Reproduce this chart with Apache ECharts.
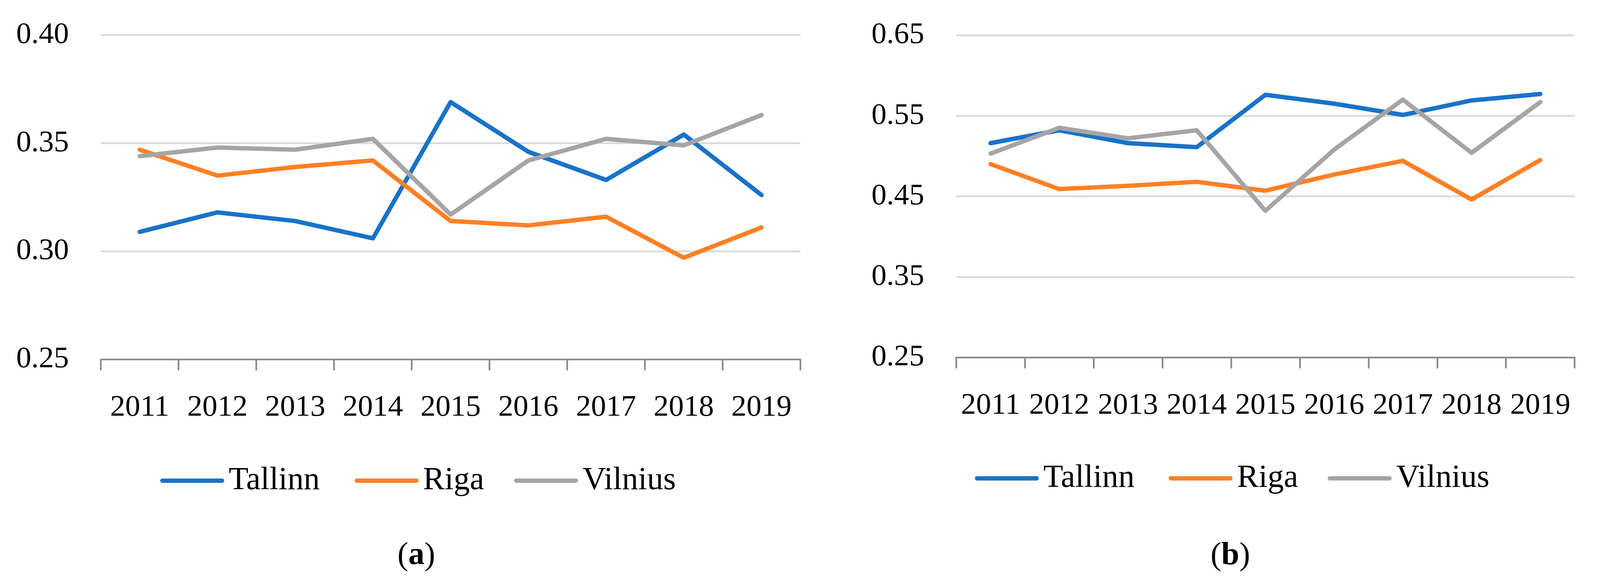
<!DOCTYPE html>
<html>
<head>
<meta charset="utf-8">
<script src="https://cdn.jsdelivr.net/npm/echarts@6/dist/echarts.min.js"></script>
<style>
html,body{margin:0;padding:0;background:#fff;overflow:hidden;}
#chart{width:100vw;height:100vh;}
</style>
</head>
<body>
<div id="chart"></div>
<script>
const years = ['2011','2012','2013','2014','2015','2016','2017','2018','2019'];
const cities = ['Tallinn','Riga','Vilnius'];
const colors = ['#1873C8','#FF8026','#A5A5A5'];

// Panel (a)
const tallinnA = [0.309, 0.318, 0.314, 0.306, 0.369, 0.346, 0.333, 0.354, 0.326];
const rigaA    = [0.347, 0.335, 0.339, 0.342, 0.314, 0.312, 0.316, 0.297, 0.311];
const vilniusA = [0.344, 0.348, 0.347, 0.352, 0.317, 0.342, 0.352, 0.349, 0.363];
const yTicksA = {min: 0.25, max: 0.40, interval: 0.05};

// Panel (b)
const tallinnB = [0.516, 0.532, 0.516, 0.511, 0.576, 0.565, 0.551, 0.569, 0.577];
const rigaB    = [0.490, 0.459, 0.463, 0.468, 0.457, 0.477, 0.494, 0.446, 0.495];
const vilniusB = [0.503, 0.535, 0.522, 0.532, 0.432, 0.508, 0.570, 0.504, 0.567];
const yTicksB = {min: 0.25, max: 0.65, interval: 0.10};

const FONT = 'Liberation Serif';
const AXIS_GRAY = '#898989';
const REF_W = 4354, REF_H = 1482;

const el = document.getElementById('chart');
const chart = echarts.init(el, null, {renderer: 'canvas'});

function build(){
  const W = el.clientWidth || window.innerWidth;
  const H = el.clientHeight || window.innerHeight;
  const sx = W / REF_W, sy = H / REF_H;
  const k = Math.min(sx, sy);
  const X = v => v * sx, Y = v => v * sy, S = v => v * k;

  function xAxis(gridIndex){
    return {
      type: 'category', gridIndex: gridIndex, data: years, boundaryGap: true,
      axisLine: {show: true, lineStyle: {color: AXIS_GRAY, width: S(4.5)}},
      axisTick: {show: true, length: Y(28), lineStyle: {color: AXIS_GRAY, width: S(4.5)}},
      axisLabel: {interval: 0, margin: Y(85), fontFamily: FONT, fontSize: S(82), color: '#000'},
      splitLine: {show: false}
    };
  }
  function yAxis(gridIndex, t){
    return {
      type: 'value', gridIndex: gridIndex, min: t.min, max: t.max, interval: t.interval,
      axisLine: {show: false}, axisTick: {show: false},
      axisLabel: {margin: X(87), fontFamily: FONT, fontSize: S(82), color: '#000',
        formatter: v => v.toFixed(2)},
      splitLine: {show: true, lineStyle: {color: '#D9D9D9', width: S(5)}}
    };
  }
  function line(name, data, color, idx){
    return {
      name: name, type: 'line', xAxisIndex: idx, yAxisIndex: idx, data: data,
      symbol: 'none', showSymbol: false, smooth: false,
      lineStyle: {color: color, width: S(12), cap: 'round', join: 'round'},
      itemStyle: {color: color}, emphasis: {disabled: true}, z: 3
    };
  }
  const capsule = 'path://M6,0 L168,0 A6,6 0 0 1 168,12 L6,12 A6,6 0 0 1 6,0 Z';
  function legend(name, left, top){
    return {
      data: [{name: name, icon: capsule}], left: X(left), top: Y(top), orient: 'horizontal',
      itemWidth: X(174), itemHeight: S(13), selectedMode: false, padding: 0,
      textStyle: {fontFamily: FONT, fontSize: S(88), color: '#000', lineHeight: S(90), padding: [0,0,0,X(7)]}
    };
  }
  function caption(letter, cx, cy){
    return {type: 'text', x: X(cx), y: Y(cy), style: {text: '{p|(}{b|' + letter + '}{p|)}', align: 'center', verticalAlign: 'middle',
      rich: {p: {fontFamily: FONT, fontSize: S(88), fill: '#000'}, b: {fontFamily: FONT, fontSize: S(88), fontWeight: 'bold', fill: '#000'}}}};
  }

  return {
    animation: false,
    backgroundColor: '#fff',
    grid: [
      {left: X(274.5), top: Y(89.7), width: X(1903.5), height: Y(830.3)},
      {left: X(2602), top: Y(90), width: X(1683), height: Y(825)}
    ],
    xAxis: [xAxis(0), xAxis(1)],
    yAxis: [yAxis(0, yTicksA), yAxis(1, yTicksB)],
    legend: [
      legend(cities[0], 436, 1188), legend(cities[1], 965, 1188), legend(cities[2], 1399, 1188),
      legend(cities[0], 2653, 1182), legend(cities[1], 3180, 1182), legend(cities[2], 3613, 1182)
    ],
    series: [
      line(cities[0], tallinnA, colors[0], 0),
      line(cities[1], rigaA, colors[1], 0),
      line(cities[2], vilniusA, colors[2], 0),
      line(cities[0], tallinnB, colors[0], 1),
      line(cities[1], rigaB, colors[1], 1),
      line(cities[2], vilniusB, colors[2], 1)
    ],
    graphic: [caption('a', 1133, 1423), caption('b', 3348, 1423)]
  };
}

chart.setOption(build(), true);
window.addEventListener('resize', () => { chart.resize(); chart.setOption(build(), true); });
</script>
</body>
</html>
